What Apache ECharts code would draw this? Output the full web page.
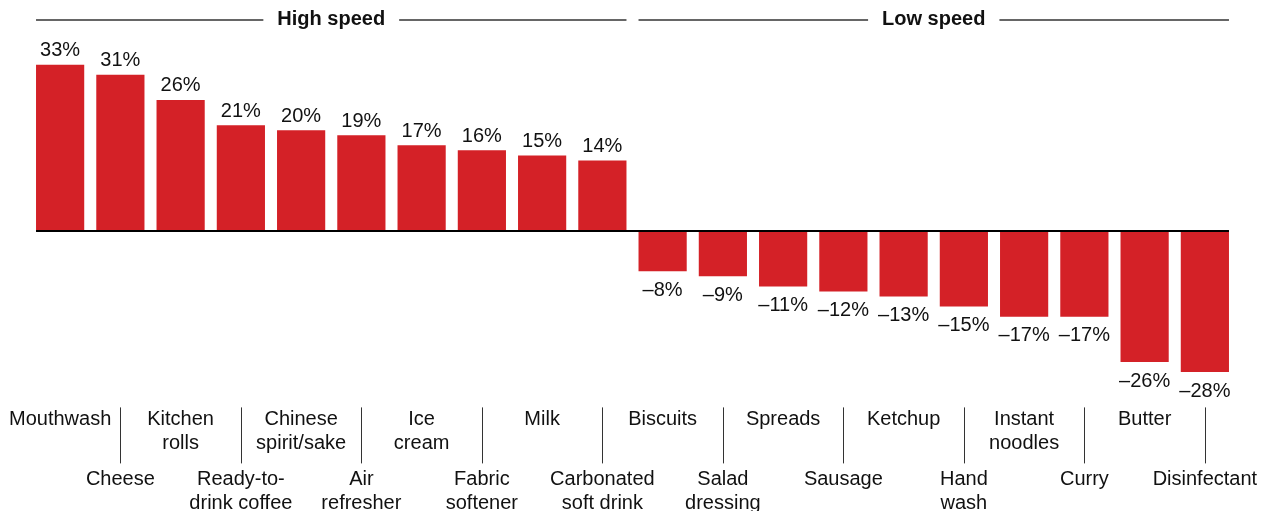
<!DOCTYPE html>
<html>
<head>
<meta charset="utf-8">
<script src="https://cdn.jsdelivr.net/npm/echarts@6/dist/echarts.min.js"></script>
<style>
  html, body { margin: 0; padding: 0; background: #fff; }
  #chart { width: 1268px; height: 511px; }
</style>
</head>
<body>
<div id="chart"></div>
<script>
// Sales growth by category, grouped by speed
const categories = [
  'Mouthwash', 'Cheese', 'Kitchen\nrolls', 'Ready-to-\ndrink coffee', 'Chinese\nspirit/sake',
  'Air\nrefresher', 'Ice\ncream', 'Fabric\nsoftener', 'Milk', 'Carbonated\nsoft drink',
  'Biscuits', 'Salad\ndressing', 'Spreads', 'Sausage', 'Ketchup',
  'Hand\nwash', 'Instant\nnoodles', 'Curry', 'Butter', 'Disinfectant'
];
const values = [33, 31, 26, 21, 20, 19, 17, 16, 15, 14,
  -8, -9, -11, -12, -13, -15, -17, -17, -26, -28];
const groupNames = ['High speed', 'Low speed'];
const groupSizes = [10, 10];

const RED = '#d42127';
const INK = '#111';
const FONT = '"Liberation Sans", Arial, Helvetica, sans-serif';
const FS = 20;

const fmtPct = v => (v < 0 ? '\u2013' + Math.abs(v) : String(v)) + '%';

const chart = echarts.init(document.getElementById('chart'), null, { renderer: 'canvas' });

const labelBase = {
  interval: 0,
  color: INK,
  fontSize: FS,
  lineHeight: 24,
  fontFamily: FONT
};

const option = {
  animation: false,
  backgroundColor: '#fff',
  textStyle: { fontFamily: FONT },
  grid: {
    left: 30, width: 1205, top: 29.4, height: 378,
    containLabel: false,
    outerBoundsMode: 'none'
  },
  xAxis: [
    {
      // upper row of names, with separators hanging at the lower-row slots
      type: 'category',
      data: categories,
      position: 'bottom',
      axisLine: { show: false, onZero: false },
      axisTick: {
        show: true,
        alignWithLabel: true,
        length: 56,
        interval: (i) => i % 2 === 1,
        lineStyle: { color: '#333', width: 1 }
      },
      axisLabel: Object.assign({}, labelBase, {
        margin: 0.5,
        formatter: (v, i) => (i % 2 === 0 ? v : '')
      })
    },
    {
      // lower row of names
      type: 'category',
      data: categories,
      position: 'bottom',
      axisLine: { show: false, onZero: false },
      axisTick: { show: false },
      axisLabel: Object.assign({}, labelBase, {
        margin: 60.5,
        formatter: (v, i) => (i % 2 === 1 ? v : '')
      })
    }
  ],
  yAxis: {
    type: 'value',
    min: -35,
    max: 40,
    show: false,
    splitLine: { show: false }
  },
  series: [{
    type: 'bar',
    barWidth: '80%',
    itemStyle: { color: RED },
    data: values.map(v => ({
      value: v,
      label: {
        show: true,
        position: v >= 0 ? 'top' : 'bottom',
        distance: v >= 0 ? 4 : 9,
        formatter: p => fmtPct(p.value),
        color: INK,
        fontSize: FS,
        fontFamily: FONT
      }
    }))
  }]
};

chart.setOption(option);

// Baseline and group headers, positioned from the axis scales
function drawDecor() {
  const p0 = chart.convertToPixel({ gridIndex: 0 }, [0, 0]);
  const p1 = chart.convertToPixel({ gridIndex: 0 }, [1, 0]);
  const half = (p1[0] - p0[0]) * 0.4;
  const leftOf = i => chart.convertToPixel({ gridIndex: 0 }, [i, 0])[0] - half;
  const rightOf = i => chart.convertToPixel({ gridIndex: 0 }, [i, 0])[0] + half;
  const zeroY = p0[1];

  const elements = [{
    type: 'line',
    shape: { x1: leftOf(0), y1: zeroY, x2: rightOf(categories.length - 1), y2: zeroY },
    style: { stroke: '#000', lineWidth: 2 },
    z: 10
  }];

  const headerY = 20;
  let start = 0;
  groupNames.forEach((name, g) => {
    const end = start + groupSizes[g] - 1;
    const x1 = leftOf(start), x2 = rightOf(end);
    elements.push({
      type: 'line',
      shape: { x1: x1, y1: headerY, x2: x2, y2: headerY },
      style: { stroke: '#333', lineWidth: 1.5 },
      z: 10
    });
    elements.push({
      type: 'text',
      x: (x1 + x2) / 2,
      y: headerY - 0.8,
      z: 11,
      style: {
        text: name,
        x: 0, y: 0,
        align: 'center',
        verticalAlign: 'middle',
        fontSize: FS,
        fontWeight: 'bold',
        fontFamily: FONT,
        fill: INK,
        backgroundColor: '#fff',
        padding: [2, 14, 2, 14]
      }
    });
    start = end + 1;
  });

  chart.setOption({ graphic: { elements: elements } });
}
drawDecor();
</script>
</body>
</html>
